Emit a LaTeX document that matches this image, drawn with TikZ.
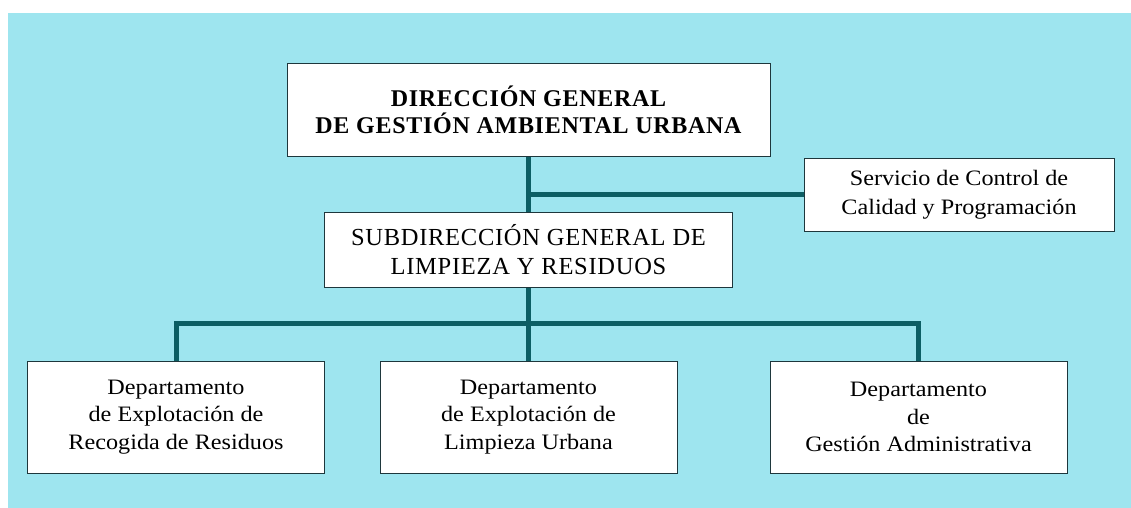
\documentclass[tikz,border=0pt]{standalone}
\usepackage{fontspec}
\setmainfont{Liberation Serif}
\newfontfamily\anchafont[FakeStretch=1.1]{Liberation Serif}
\newfontfamily\espaciada[LetterSpace=3]{Liberation Serif}
\usetikzlibrary{positioning}

\definecolor{fondo}{RGB}{158,229,239}
\definecolor{linea}{RGB}{12,94,100}
\definecolor{borde}{RGB}{30,55,60}

\tikzset{
  caja/.style={draw=borde,fill=white,line width=1pt,inner sep=0pt,align=center},
  direccion/.style={caja,font=\espaciada\fontsize{24}{27}\selectfont\bfseries},
  depto/.style={caja,minimum width=297pt,minimum height=112pt,
    font=\anchafont\fontsize{22}{27.5}\selectfont},
  conector/.style={linea,line width=5pt,line join=miter}
}

\begin{document}
\begin{tikzpicture}[x=1pt,y=-1pt]
\useasboundingbox (0,0) rectangle (1131,508);
\fill[white] (0,0) rectangle (1131,508);
\fill[fondo] (8,13) rectangle (1131,508);
%
\node[direccion,minimum width=483pt,minimum height=92pt] (dir) at (528.5,110)
  {DIRECCIÓN GENERAL\\DE GESTIÓN AMBIENTAL URBANA};
\node[caja,minimum width=408pt,minimum height=75pt,
  font=\espaciada\fontsize{24.5}{29}\selectfont] (sub) at (528.5,249.5)
  {SUBDIRECCIÓN GENERAL DE\\LIMPIEZA Y RESIDUOS};
\node[caja,minimum width=310pt,minimum height=73pt,
  font=\anchafont\fontsize{22}{29}\selectfont] (serv) at (959,194.5)
  {Servicio de Control de\\Calidad y Programación};
%
\node[depto] (recogida) at (176,417)
  {Departamento\\de Explotación de\\Recogida de Residuos};
\node[depto] (limpieza) at (528.5,417)
  {Departamento\\de Explotación de\\Limpieza Urbana};
\node[depto] (gestion) at (918.5,417)
  {Departamento\\de\\Gestión Administrativa};
%
\coordinate (bus) at (528.5,323);
\draw[conector] (dir.south) -- (sub.north);
\draw[conector] (serv.west) -- (serv.west -| dir.south);
\draw[conector] (sub.south) -- (limpieza.north);
\draw[conector] (recogida.north) |- (bus) -| (gestion.north);
\end{tikzpicture}
\end{document}
